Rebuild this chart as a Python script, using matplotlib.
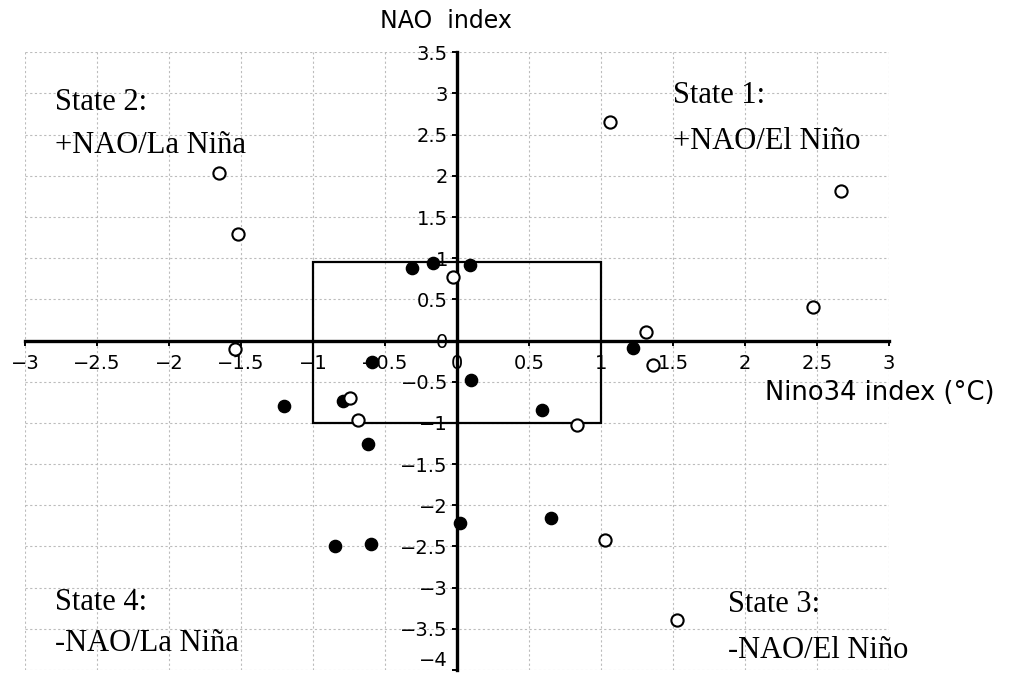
import matplotlib
matplotlib.use("Agg")
import matplotlib.pyplot as plt
from matplotlib.patches import Rectangle

# open circles (Nino34, NAO)
open_x = [1.06, 2.67, -1.65, -1.52, -0.03, -1.54, 2.47, 1.31, 1.36, -0.74, -0.69, 0.83, 1.03, 1.53]
open_y = [2.65, 1.82, 2.03, 1.30, 0.77, -0.10, 0.41, 0.10, -0.30, -0.70, -0.97, -1.02, -2.42, -3.39]

# filled circles
filled_x = [-0.31, -0.17, 0.09, -0.59, 0.10, -1.20, -0.79, -0.62, 1.22, 0.59, 0.02, 0.65, -0.85, -0.60]
filled_y = [0.88, 0.94, 0.92, -0.26, -0.48, -0.79, -0.73, -1.26, -0.09, -0.84, -2.22, -2.16, -2.49, -2.47]

# neutral box
box_x = [-1.0, 1.0]
box_y = [-1.0, 0.95]

xticks = [-3, -2.5, -2, -1.5, -1, -0.5, 0, 0.5, 1, 1.5, 2, 2.5, 3]
xtick_labels = ["\u22123", "\u22122.5", "\u22122", "\u22121.5", "\u22121", "\u22120.5", "0",
                "0.5", "1", "1.5", "2", "2.5", "3"]
yticks = [-4, -3.5, -3, -2.5, -2, -1.5, -1, -0.5, 0, 0.5, 1, 1.5, 2, 2.5, 3, 3.5]
ytick_labels = ["\u22124", "\u22123.5", "\u22123", "\u22122.5", "\u22122", "\u22121.5", "\u22121",
                "\u22120.5", "0", "0.5", "1", "1.5", "2", "2.5", "3", "3.5"]

state_labels = [
    ("State 2:", -2.79, 2.80), ("+NAO/La Niña", -2.79, 2.28),
    ("State 1:", 1.50, 2.89), ("+NAO/El Niño", 1.50, 2.32),
    ("State 4:", -2.79, -3.27), ("-NAO/La Niña", -2.79, -3.77),
    ("State 3:", 1.88, -3.30), ("-NAO/El Niño", 1.88, -3.85),
]

fig = plt.figure(figsize=(10.28, 6.79), dpi=100)
ax = fig.add_axes([0.0243, 0.01325, 0.8405, 0.9097])
ax.set_xlim(-3, 3)
ax.set_ylim(-4, 3.5)

# dotted grid every 0.5
ax.set_xticks(xticks)
ax.set_yticks(yticks)
ax.grid(True, color="#bcbcbc", linestyle=(0, (2.0, 2.2)), linewidth=0.8)
ax.set_axisbelow(True)

# axes through the origin
for side in ["top", "right"]:
    ax.spines[side].set_visible(False)
ax.spines["left"].set_position(("data", 0))
ax.spines["bottom"].set_position(("data", 0))
ax.spines["left"].set_linewidth(2.4)
ax.spines["bottom"].set_linewidth(2.4)

ax.set_xticklabels(xtick_labels)
ax.set_yticklabels(ytick_labels)
ax.tick_params(axis="both", direction="out", length=3.6, width=1.4, labelsize=14)
ax.tick_params(axis="x", pad=6)
ax.tick_params(axis="y", pad=3)
# lowest label sits on the bottom edge; keep it inside the figure
ax.get_yticklabels()[0].set_verticalalignment("bottom")

ax.add_patch(Rectangle((box_x[0], box_y[0]), box_x[1] - box_x[0], box_y[1] - box_y[0],
                       fill=False, edgecolor="black", linewidth=1.6, zorder=3))

ax.plot(filled_x, filled_y, "o", color="black", markersize=8.8, zorder=5, clip_on=False)
ax.plot(open_x, open_y, "o", markerfacecolor="white", markeredgecolor="black",
        markeredgewidth=1.5, markersize=8.8, zorder=5, clip_on=False)

for txt, tx, ty in state_labels:
    ax.text(tx, ty, txt, family="Liberation Serif", fontsize=22, va="baseline", ha="left")

fig.text(0.434, 0.9588, "NAO  index", fontsize=17, ha="center", va="baseline")
fig.text(0.744, 0.4109, "Nino34 index (\u00b0C)", fontsize=18.5, ha="left", va="baseline")

fig.savefig("out.png", dpi=100)
